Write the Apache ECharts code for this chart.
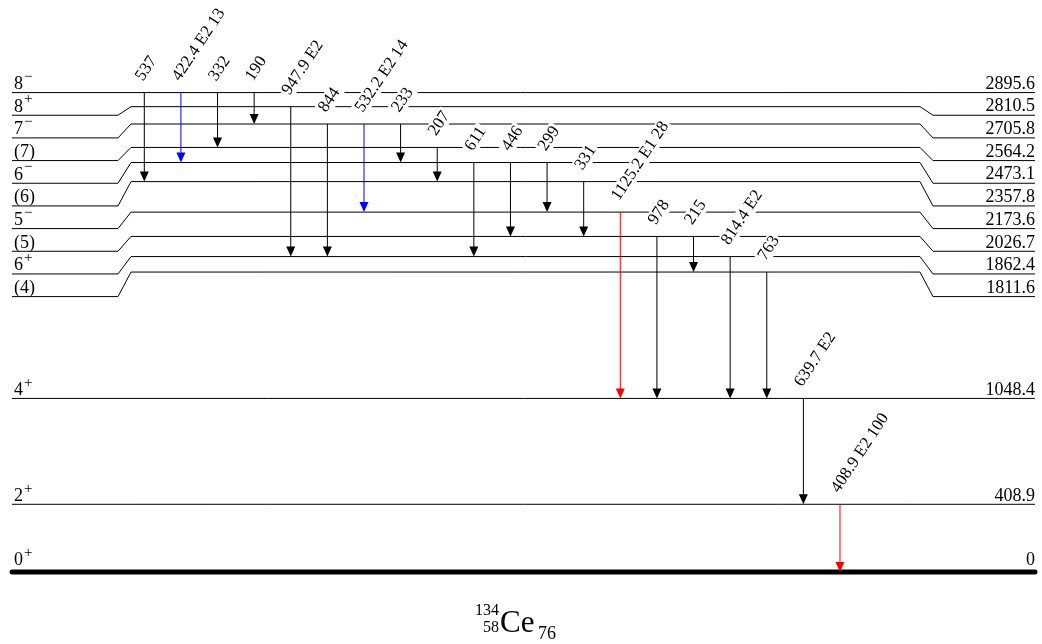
<!DOCTYPE html>
<html><head><meta charset="utf-8">
<script src="https://cdn.jsdelivr.net/npm/echarts@6/dist/echarts.min.js"></script>
<style>html,body{margin:0;padding:0;background:#fff}#c{width:1042px;height:644px}</style>
</head><body><div id="c"></div>
<script>
// ---------- DATA (levels listed top to bottom) ----------
const levelEnergies = [2895.6, 2810.5, 2705.8, 2564.2, 2473.1, 2357.8, 2173.6, 2026.7, 1862.4, 1811.6, 1048.4, 408.9, 0];
const levelEnergyLabels = ['2895.6','2810.5','2705.8','2564.2','2473.1','2357.8','2173.6','2026.7','1862.4','1811.6','1048.4','408.9','0'];
const levelSpins = ['8','8','7','(7)','6','(6)','5','(5)','6','(4)','4','2','0'];
const levelParities = ['−','+','−','','−','','−','','+','','+','+','+'];
// height at which each level line is drawn in the picture (the 6+ line sits a little above its energy)
const levelDrawnEnergies = [2895.6, 2810.5, 2705.8, 2564.2, 2473.1, 2357.8, 2173.6, 2026.7, 1905, 1811.6, 1048.4, 408.9, 0];

// gamma transitions, left to right
const gammaEnergies = ['537','422.4','332','190','947.9','844','532.2','233','207','611','446','299','331','1125.2','978','215','814.4','763','639.7','408.9'];
const gammaMultipolarities = ['','E2','','','E2','','E2','','','','','','','E1','','','E2','','E2','E2'];
const gammaIntensities = ['','13','','','','','14','','','','','','','28','','','','','','100'];
const gammaFrom = [0,0,0,0,1,2,2,2,3,4,4,4,5,6,7,7,8,9,10,11];
const gammaTo   = [5,4,3,2,8,8,6,4,5,8,7,6,7,10,10,9,10,10,11,12];

// nucleus title
const nucleusMass = '134';
const nucleusZ = '58';
const nucleusSymbol = 'Ce';
const nucleusN = '76';

// ---------- STYLE / LAYOUT ----------
const FONT = '"Liberation Serif","Times New Roman",serif';
const BLUE_GAMMAS = [1, 6];
const RED_GAMMAS = [13, 19];
const BAND_COUNT = 10;      // levels whose side labels are spread out
const BAND_STEP = 22.67;    // px between spread side labels
const X_L = -3.613, X_BL0 = -0.718, X_BL1 = -0.363, X_BR0 = 21.185, X_BR1 = 21.54, X_R = 24.325;
const ARROW_H = 10, ARROW_HW = 4.5;
const LABEL_ROT = 56.5 * Math.PI / 180;

function gammaColor(i) {
  if (BLUE_GAMMAS.indexOf(i) >= 0) return '#0000ff';
  if (RED_GAMMAS.indexOf(i) >= 0) return '#ff0000';
  return '#000000';
}
function gammaLabel(i) {
  return [gammaEnergies[i], gammaMultipolarities[i], gammaIntensities[i]].filter(s => s !== '').join(' ');
}
// text placed by its alphabetic baseline
function baselineText(str, size, x, baseline, align) {
  return {type: 'text', x: x, y: baseline - 0.3375 * size,
    style: {text: str, font: size + 'px ' + FONT, fill: '#000', align: align, verticalAlign: 'middle',
      textAlign: align, textVerticalAlign: 'middle'}};
}

const chart = echarts.init(document.getElementById('c'), null, {renderer: 'canvas'});

function levelItem(params, api) {
  const i = params.dataIndex;
  const px = v => api.coord([v, 0])[0];
  const yMid = api.coord([0, levelDrawnEnergies[i]])[1];
  const yTop = api.coord([0, levelDrawnEnergies[0]])[1];
  const inBand = i < BAND_COUNT;
  const ySide = inBand ? yTop + i * BAND_STEP : yMid;
  const ground = i === levelEnergies.length - 1;
  const pts = inBand
    ? [[px(X_L), ySide], [px(X_BL0), ySide], [px(X_BL1), yMid], [px(X_BR0), yMid], [px(X_BR1), ySide], [px(X_R), ySide]]
    : [[px(X_L), yMid], [px(X_R), yMid]];
  const off = ground ? -3.5 : 0;
  const spinText = levelParities[i] ? '{m|' + levelSpins[i] + '}{s|' + levelParities[i] + '}' : '{m|' + levelSpins[i] + '}';
  return {
    type: 'group',
    children: [
      {type: 'polyline', shape: {points: pts},
       style: {stroke: '#000', lineWidth: ground ? 5 : 1, lineCap: ground ? 'round' : 'butt', fill: null}},
      {type: 'text', x: px(X_L) + 2, y: ySide + 0.8 + off,
       style: {text: spinText, align: 'left', verticalAlign: 'bottom', textAlign: 'left', textVerticalAlign: 'bottom',
         rich: {
           m: {font: '18px ' + FONT, fill: '#000', lineHeight: 24, verticalAlign: 'bottom'},
           s: {font: '15px ' + FONT, fill: '#000', lineHeight: 14, verticalAlign: 'top', padding: [0, 0, 0, 1]}
         }}},
      {type: 'text', x: px(X_R), y: ySide + 0.5 + off,
       style: {text: levelEnergyLabels[i], font: '18px ' + FONT, fill: '#000',
         align: 'right', verticalAlign: 'bottom', textAlign: 'right', textVerticalAlign: 'bottom'}}
    ]
  };
}

function gammaLabelItem(params, api) {
  const i = params.dataIndex;
  const x = api.coord([i, 0])[0];
  const y1 = api.coord([i, levelDrawnEnergies[gammaFrom[i]]])[1];
  return {
    type: 'text', x: x + 1, y: y1 - 7, rotation: LABEL_ROT,
    style: {text: gammaLabel(i), font: '17px ' + FONT, fill: '#000',
      align: 'left', verticalAlign: 'bottom', textAlign: 'left', textVerticalAlign: 'bottom',
      backgroundColor: '#fff', padding: [0, 2, 0, 2]}
  };
}

function gammaArrowItem(params, api) {
  const i = params.dataIndex;
  const x = api.coord([i, 0])[0];
  const y1 = api.coord([i, levelDrawnEnergies[gammaFrom[i]]])[1];
  const y2 = api.coord([i, levelDrawnEnergies[gammaTo[i]]])[1];
  const c = gammaColor(i);
  return {
    type: 'group',
    children: [
      {type: 'line', shape: {x1: x, y1: y1, x2: x, y2: y2 - ARROW_H + 1}, style: {stroke: c, lineWidth: 1}},
      {type: 'polygon', shape: {points: [[x - ARROW_HW, y2 - ARROW_H], [x + ARROW_HW, y2 - ARROW_H], [x, y2]]},
       style: {fill: c, stroke: null}}
    ]
  };
}

const gammaData = gammaFrom.map((f, i) => [i, levelDrawnEnergies[f], levelDrawnEnergies[gammaTo[i]]]);
const levelData = levelDrawnEnergies.map(e => [0, e]);

chart.setOption({
  animation: false,
  backgroundColor: '#fff',
  grid: {left: 0, right: 0, top: 19, bottom: 72, containLabel: false},
  xAxis: {type: 'value', min: -3.941, max: 24.517, show: false},
  yAxis: {type: 'value', min: 0, max: 3340, show: false},
  tooltip: {show: false},
  series: [
    {type: 'custom', name: 'levels', coordinateSystem: 'cartesian2d', clip: false, z: 1,
     renderItem: levelItem, data: levelData, encode: {x: 0, y: 1}, silent: true},
    {type: 'custom', name: 'gammaLabels', coordinateSystem: 'cartesian2d', clip: false, z: 2,
     renderItem: gammaLabelItem, data: gammaData, encode: {x: 0, y: 1}, silent: true},
    {type: 'custom', name: 'gammas', coordinateSystem: 'cartesian2d', clip: false, z: 3,
     renderItem: gammaArrowItem, data: gammaData, encode: {x: 0, y: [1, 2]}, silent: true}
  ],
  graphic: [
    baselineText(nucleusMass, 16, 499, 616, 'right'),
    baselineText(nucleusZ, 16, 499, 633, 'right'),
    baselineText(nucleusSymbol, 31, 500, 634, 'left'),
    baselineText(nucleusN, 18, 538, 640, 'left')
  ]
});
</script></body></html>
